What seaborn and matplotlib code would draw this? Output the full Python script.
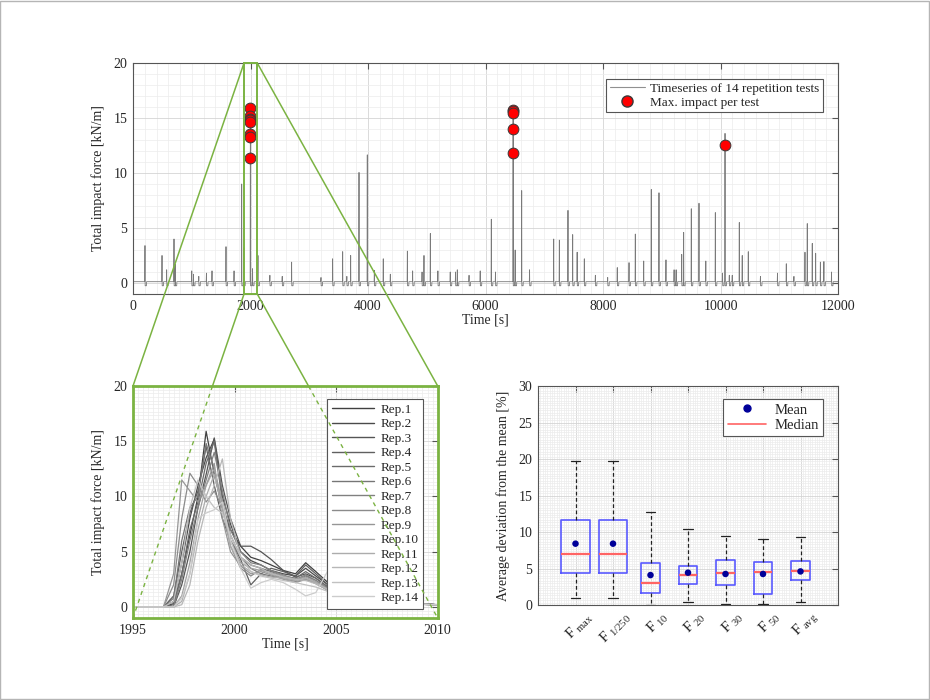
import numpy as np
import pandas as pd
import matplotlib
matplotlib.use("Agg")
import matplotlib.pyplot as plt
import seaborn as sns
from matplotlib.lines import Line2D
from matplotlib.patches import Rectangle
from matplotlib.ticker import MultipleLocator
from matplotlib.transforms import ScaledTranslation

# ---------------- data: top time series (spike times / heights) ----------------
spike_t = [204, 494, 573, 698, 720, 1000, 1030, 1120, 1250, 1345, 1583, 1720, 1850, 1885,
           1998, 2035, 2127, 2330, 2540, 2700, 3200, 3398, 3569, 3640, 3705, 3847, 3988,
           4108, 4260, 4380, 4670, 4760, 4920, 4953, 5061, 5190, 5400, 5490, 5520, 5720,
           5910, 6099, 6170, 6470, 6505, 6616, 6750, 7161, 7257, 7404, 7484, 7560, 7682,
           7870, 8080, 8243, 8443, 8550, 8693, 8822, 8953, 9072, 9210, 9245, 9340, 9373,
           9503, 9634, 9750, 9912, 10035, 10077, 10150, 10200, 10320, 10370, 10473, 10680,
           10970, 11120, 11250, 11438, 11477, 11562, 11620, 11700, 11760, 11890]
spike_h = [3.4, 2.5, 1.2, 4.0, 1.7, 1.1, 0.8, 0.6, 0.9, 1.1, 3.3, 1.1, 9.0, 3.2,
           15.95, 1.3, 2.5, 0.7, 0.6, 1.9, 0.5, 2.2, 2.85, 0.6, 2.5, 10.05, 11.65,
           1.15, 2.2, 0.8, 2.9, 1.1, 1.0, 2.5, 4.5, 1.1, 1.0, 1.0, 1.2, 0.7,
           1.1, 5.8, 1.0, 15.7, 3.0, 8.4, 1.2, 4.0, 3.9, 6.6, 4.4, 2.8, 2.2,
           0.7, 0.5, 1.4, 1.85, 4.45, 2.0, 8.5, 8.2, 2.1, 1.2, 1.2, 2.6, 4.6,
           6.75, 7.25, 2.0, 6.4, 0.9, 13.6, 0.7, 0.7, 5.5, 2.5, 2.85, 0.6,
           0.9, 1.75, 0.6, 2.8, 5.4, 3.6, 2.7, 1.9, 1.95, 1.0]
baseline_level = 0.12
dip_level = -0.25

# max impact per test
max_t = [1998, 1998, 1998, 1998, 1998, 1998, 1998, 1998,
         6470, 6470, 6470, 6470, 6470, 10077]
max_f = [15.95, 15.2, 14.95, 14.8, 14.6, 13.5, 13.3, 11.35,
         15.7, 15.6, 15.45, 14.0, 11.85, 12.5]

# ---------------- data: zoomed repetitions ----------------
rep_time = [1995.0, 1996.5, 1997.0, 1997.4, 1997.8, 1998.2, 1998.6, 1999.0, 1999.4, 1999.8,
            2000.3, 2000.8, 2001.3, 2001.8, 2002.4, 2003.0, 2003.5, 2004.0, 2004.6, 2005.2,
            2006.5, 2008.0, 2010.0]
rep01 = [0, 0, 0.3, 3.0, 6.5, 10.0, 15.9, 12.0, 9.0, 7.0, 5.5, 4.5, 4.2, 3.8, 3.3, 3.0, 4.0, 3.2, 2.2, 1.5, 0.8, 0.4, 0.2]
rep02 = [0, 0, 0.5, 4.0, 8.0, 11.0, 13.5, 15.2, 10.0, 7.5, 5.0, 4.2, 3.8, 3.3, 3.0, 2.8, 3.5, 2.8, 2.0, 1.4, 0.8, 0.4, 0.2]
rep03 = [0, 0, 0.0, 2.0, 5.0, 9.0, 12.0, 15.3, 11.0, 8.0, 5.5, 5.5, 5.0, 4.3, 3.3, 2.7, 3.0, 2.6, 1.8, 1.3, 0.7, 0.4, 0.2]
rep04 = [0, 0, 1.0, 5.0, 8.5, 10.5, 14.5, 11.0, 8.0, 6.0, 4.3, 2.0, 3.0, 3.5, 3.2, 2.8, 3.8, 3.0, 2.0, 1.4, 0.8, 0.4, 0.2]
rep05 = [0, 0, 0.2, 3.0, 7.0, 9.5, 13.0, 15.0, 9.5, 6.5, 4.5, 3.8, 3.5, 3.2, 2.8, 2.6, 3.2, 2.6, 1.8, 1.2, 0.7, 0.3, 0.2]
rep06 = [0, 0, 0.8, 6.0, 9.0, 10.0, 14.8, 12.5, 9.0, 6.0, 4.5, 3.5, 3.0, 2.8, 2.6, 2.4, 2.8, 2.4, 1.6, 1.1, 0.6, 0.3, 0.2]
rep07 = [0, 0, 0.0, 2.5, 6.0, 9.0, 11.5, 14.0, 10.5, 7.0, 5.0, 4.0, 3.8, 3.3, 2.9, 2.5, 2.9, 2.4, 1.7, 1.2, 0.6, 0.3, 0.2]
rep08 = [0, 0, 2.0, 8.0, 12.1, 11.0, 9.5, 10.5, 9.0, 5.5, 3.5, 2.8, 3.4, 3.0, 2.6, 2.3, 2.5, 2.2, 1.5, 1.0, 0.5, 0.3, 0.2]
rep09 = [0, 0, 3.0, 11.5, 10.5, 9.5, 11.0, 13.0, 8.0, 5.0, 3.7, 3.0, 3.2, 2.9, 2.5, 2.2, 2.5, 2.1, 1.5, 1.0, 0.5, 0.3, 0.2]
rep10 = [0, 0, 0.0, 1.0, 4.0, 8.0, 11.0, 12.5, 9.5, 6.0, 4.0, 3.5, 3.3, 3.1, 2.8, 2.5, 2.7, 2.3, 1.6, 1.1, 0.6, 0.3, 0.2]
rep11 = [0, 0, 0.0, 0.5, 3.0, 7.0, 10.0, 12.0, 9.0, 5.5, 3.8, 3.2, 2.9, 2.7, 2.6, 2.4, 2.6, 2.2, 1.5, 1.0, 0.5, 0.3, 0.2]
rep12 = [0, 0, 0.0, 0.2, 2.0, 6.0, 9.0, 11.0, 13.4, 8.0, 4.5, 3.8, 3.5, 3.0, 2.7, 2.5, 2.4, 2.1, 1.6, 1.1, 0.5, 0.3, 0.2]
rep13 = [0, 0, 0.5, 4.0, 9.0, 11.5, 10.0, 9.0, 8.5, 6.5, 4.5, 3.2, 2.8, 2.6, 2.4, 2.2, 2.0, 1.8, 1.4, 0.9, 0.5, 0.3, 0.2]
rep14 = [0, 0, 0.0, 0.8, 3.0, 8.0, 8.5, 8.8, 9.5, 6.0, 3.5, 1.7, 2.2, 2.5, 2.2, 1.6, 1.0, 1.3, 3.3, 1.2, 0.5, 0.3, 0.2]
rep_names = ["Rep.%d" % i for i in range(1, 15)]
rep_values = [rep01, rep02, rep03, rep04, rep05, rep06, rep07,
              rep08, rep09, rep10, rep11, rep12, rep13, rep14]

# ---------------- data: box statistics ----------------
box_labels = [r"F$_{\ \mathrm{max}}$", r"F$_{\ \mathrm{1/250}}$", r"F$_{\ \mathrm{10}}$",
              r"F$_{\ \mathrm{20}}$", r"F$_{\ \mathrm{30}}$", r"F$_{\ \mathrm{50}}$",
              r"F$_{\ \mathrm{avg}}$"]
box_whislo = [0.9, 0.9, 0.0, 0.37, 0.18, 0.10, 0.37]
box_q1 = [4.43, 4.43, 1.60, 2.88, 2.74, 1.46, 3.38]
box_med = [7.03, 7.03, 2.97, 4.10, 4.38, 4.47, 4.60]
box_q3 = [11.7, 11.7, 5.80, 5.34, 6.10, 5.94, 6.03]
box_whishi = [19.7, 19.7, 12.7, 10.45, 9.50, 9.10, 9.36]
box_mean = [8.4, 8.4, 4.1, 4.43, 4.25, 4.25, 4.6]

# ---------------- style ----------------
sns.set_theme(style="white")
plt.rcParams["font.family"] = ["Liberation Serif", "DejaVu Serif"]
plt.rcParams["mathtext.fontset"] = "custom"
plt.rcParams["mathtext.rm"] = "Liberation Serif"
plt.rcParams["mathtext.it"] = "Liberation Serif:italic"
plt.rcParams["mathtext.bf"] = "Liberation Serif:bold"
FS = 10
GREEN = "#7bb342"
AXC = "#555555"

fig = plt.figure(figsize=(9.3, 7.0), dpi=100)
W, H = 930.0, 700.0


def axes_px(l, t, r, b):
    return fig.add_axes([l / W, 1 - b / H, (r - l) / W, (b - t) / H])


def style_axes(ax, xmaj, xmin, ymaj, ymin):
    ax.xaxis.set_major_locator(MultipleLocator(xmaj))
    ax.xaxis.set_minor_locator(MultipleLocator(xmin))
    ax.yaxis.set_major_locator(MultipleLocator(ymaj))
    ax.yaxis.set_minor_locator(MultipleLocator(ymin))
    ax.grid(which="major", color="#d4d4d4", lw=0.6)
    ax.grid(which="minor", color="#ececec", lw=0.5)
    ax.set_axisbelow(True)
    ax.tick_params(which="major", direction="in", length=4, width=0.8, color=AXC,
                   labelsize=FS, top=True, right=True, pad=4)
    ax.tick_params(which="minor", length=0)
    for s in ax.spines.values():
        s.set_color(AXC)
        s.set_linewidth(0.8)


# ---------------- top panel ----------------
ax_top = axes_px(133, 63, 838, 294)
ts_t, ts_f = [0.0], [baseline_level]
for t, h in sorted(zip(spike_t, spike_h)):
    ts_t += [t - 4, t, t + 3, t + 24, t + 27]
    ts_f += [baseline_level, h, dip_level, dip_level, baseline_level]
ts_t.append(12000.0)
ts_f.append(baseline_level)
ts_df = pd.DataFrame({"t": ts_t, "F": ts_f})
sns.lineplot(data=ts_df, x="t", y="F", ax=ax_top, color="#7a7a7a", lw=0.6,
             sort=False, estimator=None)
max_df = pd.DataFrame({"t": max_t, "F": max_f})
sns.scatterplot(data=max_df, x="t", y="F", ax=ax_top, color="#ff0000", s=60,
                edgecolor="#3a3a3a", linewidth=0.7, zorder=5)
ax_top.set_xlim(0, 12000)
ax_top.set_ylim(-1, 20)
style_axes(ax_top, 2000, 200, 5, 1)
ax_top.set_xlabel("Time [s]", fontsize=FS, labelpad=1)
ax_top.set_ylabel("Total impact force [kN/m]", fontsize=FS, labelpad=6)
# zoom rectangle
zx0, zx1, zy0, zy1 = 1890, 2115, -1, 20
ax_top.add_patch(Rectangle((zx0, zy0), zx1 - zx0, zy1 - zy0, fill=False,
                           edgecolor=GREEN, lw=1.4, zorder=6, clip_on=False))
h_top = [Line2D([], [], color="#909090", lw=0.8),
         Line2D([], [], marker="o", ls="none", markerfacecolor="#ff0000",
                markeredgecolor="#3a3a3a", markersize=8)]
leg = ax_top.legend(h_top, ["Timeseries of 14 repetition tests", "Max. impact per test"],
                    loc="upper right", bbox_to_anchor=(1 - 15 / 705, 1 - 16 / 231),
                    borderaxespad=0, fontsize=9.5, fancybox=False, framealpha=1,
                    edgecolor="#555555", handlelength=2.7, borderpad=0.25,
                    labelspacing=0.15, handletextpad=0.4)
leg.get_frame().set_linewidth(0.8)

# ---------------- bottom-left panel ----------------
ax_bl = axes_px(133, 386, 437.7, 618)
rows = []
for name, vals in zip(rep_names, rep_values):
    for t, v in zip(rep_time, vals):
        rows.append((name, t, v))
rep_df = pd.DataFrame(rows, columns=["rep", "t", "F"])
grays = [plt.cm.gray(v) for v in np.linspace(0.25, 0.8, 14)]
sns.lineplot(data=rep_df, x="t", y="F", hue="rep", palette=grays, ax=ax_bl,
             lw=0.9, estimator=None, legend=False)
ax_bl.set_xlim(1995, 2010)
ax_bl.set_ylim(-1, 20)
style_axes(ax_bl, 5, 0.25, 5, 1 / 3)
for s in ax_bl.spines.values():
    s.set_color(GREEN)
    s.set_linewidth(2)
ax_bl.set_xlabel("Time [s]", fontsize=FS, labelpad=1)
ax_bl.set_ylabel("Total impact force [kN/m]", fontsize=FS, labelpad=6)
h_bl = [Line2D([], [], color=c, lw=1.0) for c in grays]
leg2 = ax_bl.legend(h_bl, rep_names, loc="upper right", bbox_to_anchor=(0.952, 0.944),
                    borderaxespad=0, fontsize=9.5, fancybox=False, framealpha=1,
                    edgecolor="#555555", handlelength=3.2, borderpad=0.35,
                    labelspacing=0.17, handletextpad=0.5)
leg2.get_frame().set_linewidth(0.8)

# ---------------- bottom-right panel ----------------
ax_br = axes_px(538, 386, 838, 605)
positions = list(range(1, 8))
widths = [0.75, 0.75, 0.5, 0.5, 0.5, 0.5, 0.5]
stats = [dict(label=l, whislo=a, q1=b, med=c, q3=d, whishi=e, fliers=[])
         for l, a, b, c, d, e in zip(box_labels, box_whislo, box_q1, box_med, box_q3, box_whishi)]
ax_br.bxp(stats, positions=positions, widths=widths, capwidths=0.25, showfliers=False,
          boxprops=dict(color="#5a5aff", lw=1.2),
          medianprops=dict(color="#ff6464", lw=1.6),
          whiskerprops=dict(color="#222222", lw=0.9, ls=(0, (3, 2))),
          capprops=dict(color="#222222", lw=0.9))
mean_df = pd.DataFrame({"pos": positions, "mean": box_mean})
sns.scatterplot(data=mean_df, x="pos", y="mean", ax=ax_br, color="#000099", s=22,
                edgecolor="none", zorder=5)
ax_br.set_xlim(0, 8)
ax_br.set_ylim(0, 30)
style_axes(ax_br, 1, 1 / 16, 5, 1 / 3)
ax_br.tick_params(axis="x", which="major", length=4, pad=0)
ax_br.set_xticks(positions)
ax_br.set_xticklabels(box_labels, rotation=45, ha="right", va="center",
                      rotation_mode="anchor", fontsize=11)
off = ScaledTranslation(0.15, -0.10, fig.dpi_scale_trans)
for lab in ax_br.get_xticklabels():
    lab.set_transform(lab.get_transform() + off)
ax_br.set_xlabel("")
ax_br.set_ylabel("Average deviation from the mean [%]", fontsize=FS, labelpad=6)
h_br = [Line2D([], [], marker="o", ls="none", color="#000099", markersize=5),
        Line2D([], [], color="#ff6464", lw=1.2)]
leg3 = ax_br.legend(h_br, ["Mean", "Median"], loc="upper right",
                    bbox_to_anchor=(0.95, 0.941), borderaxespad=0, fontsize=10.5,
                    fancybox=False, framealpha=1, edgecolor="#555555",
                    handlelength=2.6, borderpad=0.3, labelspacing=0.15, handletextpad=0.6)
leg3.get_frame().set_linewidth(0.8)

# ---------------- connector lines (zoom) ----------------
def to_fig(pt, trans):
    disp = trans.transform(pt)
    return fig.transFigure.inverted().transform(disp)

tl = to_fig((zx0, zy1), ax_top.transData)
tr = to_fig((zx1, zy1), ax_top.transData)
bl_ = to_fig((zx0, zy0), ax_top.transData)
br_ = to_fig((zx1, zy0), ax_top.transData)
a_tl = to_fig((0, 1), ax_bl.transAxes)
a_tr = to_fig((1, 1), ax_bl.transAxes)
a_bl = to_fig((0, 0), ax_bl.transAxes)
a_br = to_fig((1, 0), ax_bl.transAxes)

for p, q in [(tl, a_tl), (tr, a_tr)]:
    fig.add_artist(Line2D([p[0], q[0]], [p[1], q[1]], transform=fig.transFigure,
                          color=GREEN, lw=1.1, zorder=10))
ytop_bl = a_tl[1]
for p, q in [(bl_, a_bl), (br_, a_br)]:
    frac = (p[1] - ytop_bl) / (p[1] - q[1])
    mx = p[0] + frac * (q[0] - p[0])
    fig.add_artist(Line2D([p[0], mx], [p[1], ytop_bl], transform=fig.transFigure,
                          color=GREEN, lw=1.1, zorder=10))
    fig.add_artist(Line2D([mx, q[0]], [ytop_bl, q[1]], transform=fig.transFigure,
                          color=GREEN, lw=1.0, ls=(0, (3, 3)), zorder=10))

# figure border
fig.add_artist(Rectangle((0.0005, 0.001), 0.998, 0.998, transform=fig.transFigure,
                         fill=False, edgecolor="#b5b5b5", lw=1.0))

fig.savefig("out.png", dpi=100)
